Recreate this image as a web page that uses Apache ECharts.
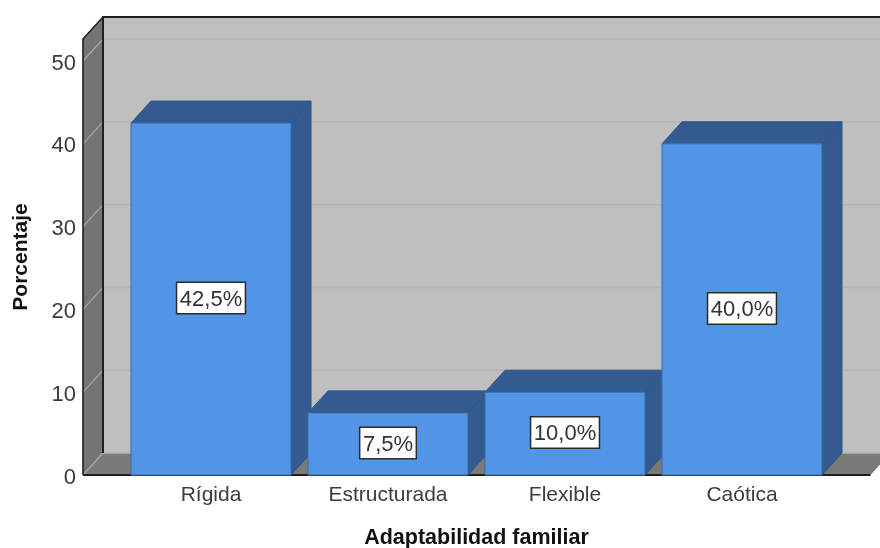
<!DOCTYPE html>
<html>
<head>
<meta charset="utf-8">
<style>html,body{margin:0;padding:0;background:#fff}#chart{width:880px;height:548px}</style>
<script src="https://cdn.jsdelivr.net/npm/echarts@6/dist/echarts.min.js"></script>
</head>
<body>
<div id="chart"></div>
<script>
// Frequency table: family adaptability
const categories = ['Rígida', 'Estructurada', 'Flexible', 'Caótica'];
const percentages = [42.5, 7.5, 10.0, 40.0];
const yTicks = [0, 10, 20, 30, 40, 50];
const xTitle = 'Adaptabilidad familiar';
const yTitle = 'Porcentaje';

// Oblique projection of the box: how far the back plane sits from the front plane
const DX = 20, DY = -22;
const AXIS_TOP = 52.66;
const FRONT_LEFT = 83, FRONT_RIGHT = 870.5;
const BACK_RIGHT = 880;

const chart = echarts.init(document.getElementById('chart'), null, { renderer: 'canvas' });

const poly = (points, fill, stroke, lineWidth) => ({
  type: 'polygon',
  shape: { points },
  style: { fill, stroke: stroke || null, lineWidth: lineWidth || 0 }
});
const line = (points, stroke, lineWidth) => ({
  type: 'polyline',
  shape: { points },
  style: { fill: null, stroke, lineWidth }
});

// Walls and floor of the box, with gridlines wrapping the side and back walls
function renderBox(params, api) {
  const y0 = api.coord([0, 0])[1];
  const yTop = api.coord([0, AXIS_TOP])[1];
  const children = [
    poly([[FRONT_LEFT + DX, yTop + DY], [BACK_RIGHT, yTop + DY], [BACK_RIGHT, y0 + DY], [FRONT_LEFT + DX, y0 + DY]], '#bfbfbf'),
    poly([[FRONT_LEFT, y0], [FRONT_LEFT + DX, y0 + DY], [FRONT_LEFT + DX, yTop + DY], [FRONT_LEFT, yTop]], '#747474'),
    poly([[FRONT_LEFT, y0], [FRONT_RIGHT, y0], [FRONT_RIGHT + DX, y0 + DY], [FRONT_LEFT + DX, y0 + DY]], '#7a7a7a')
  ];
  yTicks.forEach((t) => {
    const y = api.coord([0, t])[1];
    children.push(line([[FRONT_LEFT, y], [FRONT_LEFT + DX, y + DY]], '#a8a8a8', 1.2));
    children.push(line([[FRONT_LEFT + DX, y + DY], [BACK_RIGHT, y + DY]], '#b4b4b4', 1.6));
  });
  children.push(line([[FRONT_LEFT + DX, y0 + DY], [FRONT_LEFT + DX, yTop + DY], [BACK_RIGHT, yTop + DY]], '#1f1f1f', 2));
  children.push(line([[FRONT_LEFT, y0], [FRONT_LEFT, yTop], [FRONT_LEFT + DX, yTop + DY]], '#1f1f1f', 1.6));
  children.push(line([[FRONT_LEFT, y0], [FRONT_RIGHT, y0]], '#1f1f1f', 2));
  return { type: 'group', children };
}

// One extruded bar: side and top faces first, then the front face
function renderBar(params, api) {
  const cat = api.value(0);
  const val = api.value(1);
  const [cx, yTop] = api.coord([cat, val]);
  const y0 = api.coord([cat, 0])[1];
  const half = api.size([1, 0])[0] * 0.452;
  const l = cx - half, r = cx + half;
  const edge = '#2c5587';
  return {
    type: 'group',
    children: [
      poly([[r, y0], [r + DX, y0 + DY], [r + DX, yTop + DY], [r, yTop]], '#335b8f', edge, 1),
      poly([[l, yTop], [r, yTop], [r + DX, yTop + DY], [l + DX, yTop + DY]], '#335b8f', edge, 1),
      {
        type: 'rect',
        shape: { x: l, y: yTop, width: r - l, height: y0 - yTop },
        style: { fill: '#5294e6', stroke: '#3a6ea8', lineWidth: 1 }
      },
      {
        type: 'text',
        x: cx,
        y: (yTop + y0) / 2 - 16,
        style: {
          text: val.toFixed(1).replace('.', ',') + '%',
          x: 0, y: 0,
          align: 'center',
          verticalAlign: 'top',
          fontFamily: 'Liberation Sans',
          fontSize: 22,
          fill: '#333',
          backgroundColor: '#fff',
          borderColor: '#2b2b2b',
          borderWidth: 1.5,
          padding: [5.5, 2.5, 2.5, 2.5]
        }
      }
    ]
  };
}

chart.setOption({
  animation: false,
  backgroundColor: '#fff',
  grid: { left: 122.5, top: 39, width: 708, height: 436, outerBoundsMode: 'none' },
  xAxis: {
    type: 'category',
    data: categories,
    name: xTitle,
    nameLocation: 'middle',
    nameGap: 52,
    nameTextStyle: { fontFamily: 'Liberation Sans', fontSize: 21.5, fontWeight: 'bold', color: '#111' },
    axisLine: { show: false },
    axisTick: { show: false },
    axisLabel: { fontFamily: 'Liberation Sans', fontSize: 21, color: '#3c3c3c', margin: 10 }
  },
  yAxis: {
    type: 'value',
    min: 0,
    max: AXIS_TOP,
    interval: 10,
    offset: 39.5,
    name: yTitle,
    nameLocation: 'middle',
    nameGap: 51,
    nameTextStyle: { fontFamily: 'Liberation Sans', fontSize: 21, fontWeight: 'bold', color: '#111' },
    axisLine: { show: false },
    axisTick: { show: false },
    splitLine: { show: false },
    axisLabel: {
      fontFamily: 'Liberation Sans',
      fontSize: 22,
      color: '#3c3c3c',
      margin: 7,
      verticalAlign: 'top',
      lineHeight: 5,
      customValues: yTicks
    }
  },
  series: [
    { type: 'custom', renderItem: renderBox, clip: false, silent: true, data: [[0, 0]], z: 1 },
    {
      type: 'custom',
      renderItem: renderBar,
      clip: false,
      encode: { x: 0, y: 1 },
      data: categories.map((c, i) => [i, percentages[i]]),
      z: 2
    }
  ]
});
</script>
</body>
</html>
